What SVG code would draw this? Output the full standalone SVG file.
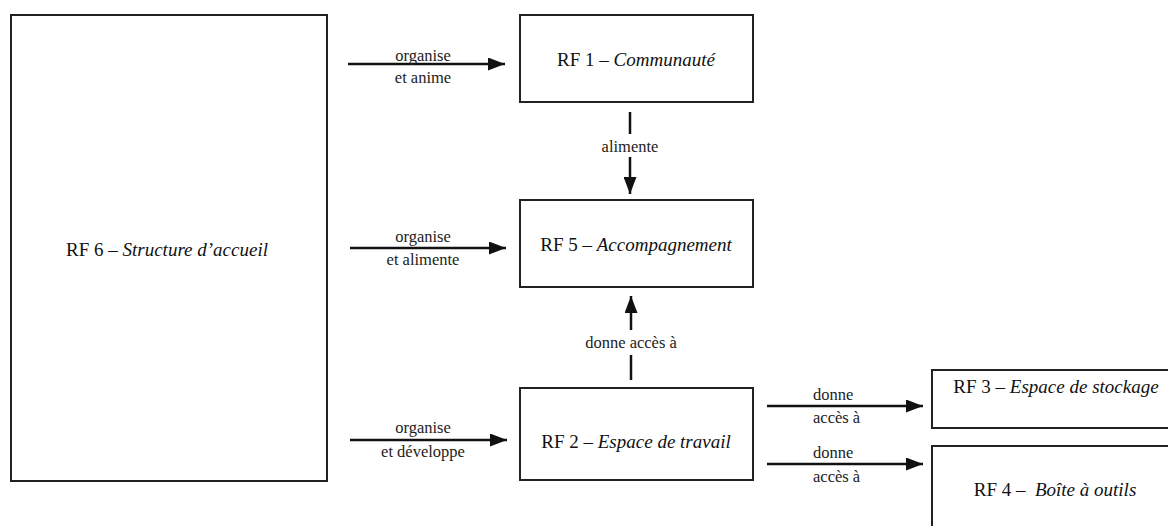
<svg xmlns="http://www.w3.org/2000/svg" width="1168" height="526" viewBox="0 0 1168 526">
<defs>
<marker id="ah" viewBox="0 0 17 13" refX="17" refY="6.5" markerWidth="17" markerHeight="13" markerUnits="userSpaceOnUse" orient="auto">
<path d="M0,0 L17,6.5 L0,13 z" fill="#111"/>
</marker>
<style>
.box{fill:#fff;stroke:#222;stroke-width:2}
.nt{font-family:"Liberation Serif","Times New Roman",serif;font-size:19px;fill:#111;text-anchor:middle}
.lb{font-family:"Liberation Serif","Times New Roman",serif;font-size:16.5px;fill:#222;text-anchor:middle}
.ls{text-anchor:start}
.ln{stroke:#111;stroke-width:2.5;fill:none}
.ar{stroke:#111;stroke-width:2.5;fill:none;marker-end:url(#ah)}
</style>
</defs>
<rect width="1168" height="526" fill="#fff"/>
<g id="rf6"><rect class="box" x="11" y="15" width="316" height="466"/><text class="nt" x="167" y="256">RF 6 – <tspan font-style="italic">Structure d’accueil</tspan></text></g>
<g id="rf1"><rect class="box" x="520" y="15" width="233" height="87"/><text class="nt" x="636" y="66">RF 1 – <tspan font-style="italic">Communauté</tspan></text></g>
<g id="rf5"><rect class="box" x="520" y="200" width="233" height="87"/><text class="nt" x="636" y="251">RF 5 – <tspan font-style="italic">Accompagnement</tspan></text></g>
<g id="rf2"><rect class="box" x="520" y="388" width="233" height="92"/><text class="nt" x="636" y="448">RF 2 – <tspan font-style="italic">Espace de travail</tspan></text></g>
<g id="rf3"><rect class="box" x="932" y="370" width="250" height="58"/><text class="nt" x="1056" y="393">RF 3 – <tspan font-style="italic">Espace de stockage</tspan></text></g>
<g id="rf4"><rect class="box" x="932" y="446" width="250" height="100"/><text class="nt" x="1055" y="496" xml:space="preserve">RF 4 –  <tspan font-style="italic">Boîte à outils</tspan></text></g>
<g id="connectors">
<line class="ar" x1="348" y1="64" x2="505" y2="64"/>
<text class="lb" x="423" y="61">organise</text><text class="lb" x="423" y="83">et anime</text>
<line class="ar" x1="350" y1="248" x2="506" y2="248"/>
<text class="lb" x="423" y="242">organise</text><text class="lb" x="423" y="265">et alimente</text>
<line class="ar" x1="350" y1="440" x2="507" y2="440"/>
<text class="lb" x="423" y="433">organise</text><text class="lb" x="423" y="457">et développe</text>
<line class="ln" x1="630" y1="112" x2="630" y2="134"/>
<text class="lb" x="630" y="152">alimente</text>
<line class="ar" x1="630" y1="157" x2="630" y2="194"/>
<line class="ln" x1="631" y1="380" x2="631" y2="355"/>
<text class="lb" x="631" y="348">donne accès à</text>
<line class="ar" x1="631" y1="330" x2="631" y2="296"/>
<line class="ar" x1="767" y1="406" x2="923" y2="406"/>
<text class="lb ls" x="813" y="400">donne</text><text class="lb ls" x="813" y="423">accès à</text>
<line class="ar" x1="767" y1="464" x2="923" y2="464"/>
<text class="lb ls" x="813" y="458">donne</text><text class="lb ls" x="813" y="482">accès à</text>
</g>
</svg>
